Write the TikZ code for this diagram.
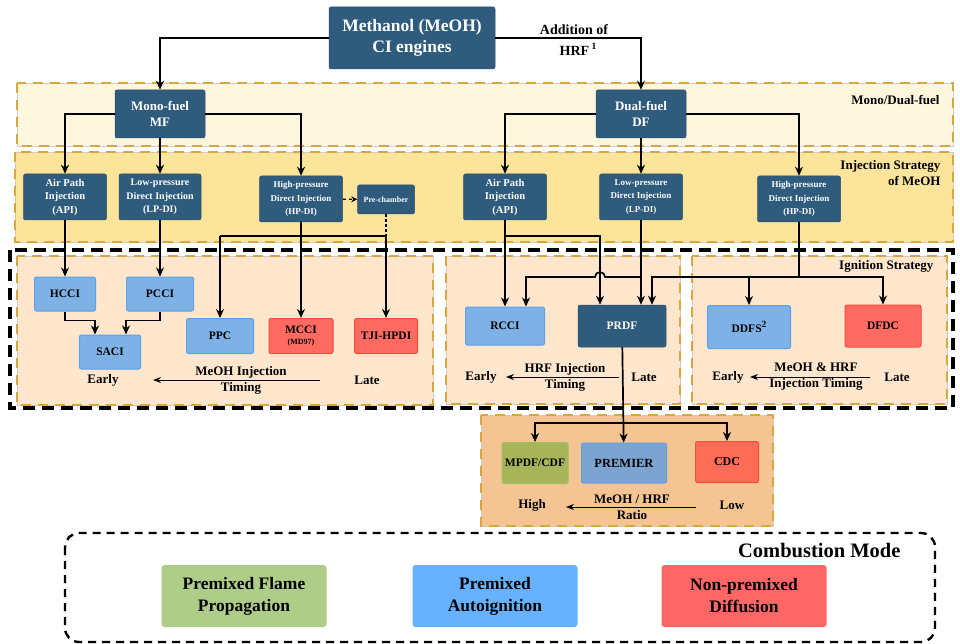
\documentclass[tikz,border=0pt]{standalone}
\usepackage{fontspec}
\setmainfont{Liberation Serif}
\usepackage{tikz}
\usetikzlibrary{arrows.meta,positioning}
\definecolor{deepblue}{HTML}{2F5B7C}
\definecolor{bandone}{HTML}{FFF6DE}
\definecolor{bandtwo}{HTML}{FDE49B}
\definecolor{panelfill}{HTML}{FFE6CC}
\definecolor{ratiofill}{HTML}{F5C493}
\definecolor{zonedash}{HTML}{D9A73C}
\definecolor{autoblue}{HTML}{7EB2E6}
\definecolor{autoline}{HTML}{5BA0EA}
\definecolor{diffred}{HTML}{FF6B61}
\definecolor{diffline}{HTML}{FF4A42}
\definecolor{premblue}{HTML}{7CA4D0}
\definecolor{olive}{HTML}{A8B45A}
\definecolor{oliveline}{HTML}{9BC35A}
\definecolor{leggreen}{HTML}{AECD88}
\definecolor{legblue}{HTML}{66B2FF}
\definecolor{legred}{HTML}{FF6666}
\newcommand\fsize[2]{\fontsize{#1}{#2}\selectfont}
\newcommand\supnum[1]{\raisebox{0.9ex}{\fsize{9.5}{10}#1}}

\begin{document}
\begin{tikzpicture}[x=1pt,y=-1pt,font=\bfseries,
    darkbox/.style={fill=deepblue,draw=deepblue!85!black,line width=0.5pt,rounded corners=2pt,
      text=white,align=center,inner sep=0pt},
    autobox/.style={fill=autoblue,draw=autoline,line width=1pt,rounded corners=2pt,align=center,
      inner sep=0pt,font=\bfseries\fsize{11.5}{13}},
    diffbox/.style={fill=diffred,draw=diffline,line width=1pt,rounded corners=2pt,align=center,
      inner sep=0pt,font=\bfseries\fsize{11.5}{13}},
    legbox/.style={fill=#1,rounded corners=3pt,align=center,inner sep=0pt,
      minimum width=165pt,minimum height=62pt,font=\bfseries\fsize{17.5}{22}},
    zone/.style={fill=#1,draw=gray!40,line width=0.5pt,
      postaction={draw=zonedash,line width=1.6pt,dash pattern=on 10pt off 7pt}},
    injtext/.style={font=\bfseries\fsize{10}{13.5}},
    tag/.style={font=\bfseries\fsize{13}{16},align=right,anchor=east},
    axistext/.style={font=\bfseries\fsize{13}{16},align=center},
    arr/.style={line width=1.7pt,-{Stealth[length=9pt,width=8pt]}},
    axis/.style={line width=1pt,-{Stealth[length=8pt,width=6pt]}}]
  \useasboundingbox (0,0) rectangle (960,644);

  % bands and panels
  \path[zone=bandone] (17,83) rectangle (953,146);
  \path[zone=bandtwo] (15,152) rectangle (953,242);
  \path[zone=panelfill] (17,256) rectangle (433,405);
  \path[zone=panelfill] (446,256) rectangle (680,404);
  \path[zone=panelfill] (692,256) rectangle (947,404);
  \path[zone=ratiofill] (481,415) rectangle (773,526);
  \draw[line width=3.4pt,dash pattern=on 12pt off 7pt] (10,250) rectangle (953,408);
  \draw[line width=2.4pt,dash pattern=on 8pt off 6pt,rounded corners=14pt] (65,533) rectangle (935,642);

  \path
  (943,100) node[tag](dualtag) {Mono/Dual-fuel}
  (944,173) node[tag](injtag) {Injection Strategy\\of MeOH}
  (937,266) node[tag](igntag) {Ignition Strategy}
  (904,551) node[anchor=east,font=\bfseries\fsize{20.5}{22}](modetag) {Combustion Mode}
  ;

  % top levels
  \path
  (412,38) node[darkbox,minimum width=166pt,minimum height=62pt,font=\bfseries\fsize{17.5}{21.5}](meoh) {Methanol (MeOH)\\CI engines}
  (160,114) node[darkbox,minimum width=90pt,minimum height=48pt,font=\bfseries\fsize{13}{16}](mf) {Mono-fuel\\MF}
  (641,114) node[darkbox,minimum width=90pt,minimum height=48pt,font=\bfseries\fsize{13}{16}](df) {Dual-fuel\\DF}
  (574,30) node[font=\bfseries\fsize{14}{16}](addtxt) {Addition of}
  (578,49) node[font=\bfseries\fsize{14}{16}](hrftxt) {HRF\,\supnum{1}}
  ;

  % injection strategy
  \path
  (65,197) node[darkbox,injtext,minimum width=83pt,minimum height=46pt,font=\bfseries\fsize{10.5}{13.5}](api1) {Air Path\\Injection\\(API)}
  (160,197) node[darkbox,injtext,minimum width=82pt,minimum height=46pt](lpdi1) {Low-pressure\\Direct Injection\\(LP-DI)}
  (301,199) node[darkbox,minimum width=83pt,minimum height=46pt,font=\bfseries\fsize{9}{13.5}](hpdi1) {High-pressure\\Direct Injection\\(HP-DI)}
  (386,199.5) node[darkbox,minimum width=57pt,minimum height=29pt,font=\bfseries\fsize{8}{9}](prech) {Pre-chamber}
  (505,197) node[darkbox,injtext,minimum width=83pt,minimum height=46pt,font=\bfseries\fsize{10.5}{13.5}](api2) {Air Path\\Injection\\(API)}
  (641,197) node[darkbox,minimum width=83pt,minimum height=46pt,font=\bfseries\fsize{9}{13.5}](lpdi2) {Low-pressure\\Direct Injection\\(LP-DI)}
  (799,199) node[darkbox,minimum width=83pt,minimum height=46pt,font=\bfseries\fsize{9}{13.5}](hpdi2) {High-pressure\\Direct Injection\\(HP-DI)}
  ;

  % ignition strategy
  \path
  (65,294) node[autobox,minimum width=61pt,minimum height=34pt](hcci) {HCCI}
  (160,294) node[autobox,minimum width=67pt,minimum height=34pt](pcci) {PCCI}
  (110,352) node[autobox,minimum width=61pt,minimum height=34pt](saci) {SACI}
  (220,336) node[autobox,minimum width=67pt,minimum height=35pt](ppc) {PPC}
  (301,336) node[diffbox,minimum width=64pt,minimum height=35pt](mcci) {MCCI\\[-2pt]{\fsize{8}{9}(MD97)}}
  (386,336) node[diffbox,minimum width=63pt,minimum height=35pt](tji) {TJI-HPDI}
  (505,326) node[autobox,minimum width=79pt,minimum height=38pt](rcci) {RCCI}
  (622,326) node[darkbox,minimum width=88pt,minimum height=42pt,font=\bfseries\fsize{11.5}{13}](prdf) {PRDF}
  (749,327) node[autobox,minimum width=83pt,minimum height=43pt](ddfs) {DDFS\supnum{2}}
  (883,326) node[diffbox,minimum width=76pt,minimum height=42pt](dfdc) {DFDC}
  ;

  % ratio panel
  \path
  (535,463) node[fill=olive,draw=oliveline,line width=1pt,rounded corners=2pt,inner sep=0pt,
    minimum width=66pt,minimum height=41pt,font=\bfseries\fsize{11.5}{13}](mpdf) {MPDF/CDF}
  (624,463) node[fill=premblue,draw=autoline,line width=1pt,rounded corners=2pt,inner sep=0pt,
    minimum width=85pt,minimum height=40pt,font=\bfseries\fsize{12.5}{13}](premier) {PREMIER}
  (727,462) node[diffbox,minimum width=63pt,minimum height=41pt,fill=diffred!90!orange,font=\bfseries\fsize{12}{13}](cdc) {CDC}
  ;

  % timing axes
  \path
  (103,380) node[axistext](early1) {Early}
  (367,380) node[axistext](late1) {Late}
  (241,380) node[axistext](timing1) {MeOH Injection\\Timing}
  (481,377) node[axistext](early2) {Early}
  (644,377) node[axistext](late2) {Late}
  (565,377) node[axistext](timing2) {HRF Injection\\Timing}
  (728,377) node[axistext](early3) {Early}
  (897,377) node[axistext](late3) {Late}
  (816,377) node[axistext](timing3) {MeOH \& HRF\\Injection Timing}
  (532,505) node[axistext](high) {High}
  (732,505) node[axistext](low) {Low}
  (632,507) node[axistext](ratio) {MeOH / HRF\\Ratio}
  ;
  \draw[axis] (320,380) -- (153,380);
  \draw[axis] (619,377) -- (506,377);
  \draw[axis] (870,377) -- (750,377);
  \draw[axis] (696,507) -- (566,507);

  % legend
  \path
  (244,596) node[legbox=leggreen](flame) {Premixed Flame\\Propagation}
  (495,596) node[legbox=legblue](autoig) {Premixed\\Autoignition}
  (744,596) node[legbox=legred](diffus) {Non-premixed\\Diffusion}
  ;

  % connectors
  \coordinate (hpbar) at (301,236);
  \coordinate (ppcbar) at (220,236);
  \coordinate (tjibar) at (386,236);
  \coordinate (apibar) at (505,236);
  \coordinate (lpbar) at (641,277);
  \coordinate (hpbar2) at (799,277);
  \coordinate (prbar) at (624,423);

  \draw[arr] (meoh.west) -| (mf);
  \draw[arr] (meoh.east) -| (df);
  \draw[arr] (mf.west) -| (api1);
  \draw[arr] (mf) -- (lpdi1);
  \draw[arr] (mf.east) -| (hpdi1);
  \draw[arr] (df.west) -| (api2);
  \draw[arr] (df) -- (lpdi2);
  \draw[arr] (df.east) -| (hpdi2);
  \draw[line width=1.2pt,dashed,-{Stealth[length=6pt,width=6pt]}] (hpdi1) -- (prech);

  \draw[arr] (api1) -- (hcci);
  \draw[arr] (lpdi1) -- (pcci);
  \draw[arr] (hcci.south) |- ++(30,9) -- ([xshift=-15pt]saci.north);
  \draw[arr] (pcci.south) |- ++(-34,9) -- ([xshift=16pt]saci.north);
  \draw[line width=1.7pt] (hpdi1) -- (hpbar);
  \draw[line width=1.7pt] (ppcbar) -- (tjibar);
  \draw[arr] (hpbar) -- (mcci);
  \draw[arr] (ppcbar) -- (ppc);
  \draw[arr] (tjibar) -- (tji);
  \draw[line width=1.2pt,dash pattern=on 3pt off 2pt] (prech) -- (tjibar);

  \draw[arr] (api2) -- (rcci);
  \draw[arr] (apibar) -| ([xshift=-22pt]prdf.north);
  \draw[arr] (lpdi2) -- (lpdi2 |- prdf.north);
  \draw[arr] (lpbar) -- (605,277) arc[start angle=0,end angle=180,radius=5pt] -| ([xshift=21pt]rcci.north);
  \draw[line width=2.2pt] (hpdi2) -- (hpbar2);
  \draw[arr] (hpbar2) -| ([xshift=30pt]prdf.north);
  \draw[arr] (hpbar2) -| (ddfs);
  \draw[arr] (hpbar2) -| (dfdc);

  \draw[arr] (prdf) -- (premier);
  \draw[arr] (prbar) -| (mpdf);
  \draw[arr] (prbar) -| (cdc);
\end{tikzpicture}
\end{document}
